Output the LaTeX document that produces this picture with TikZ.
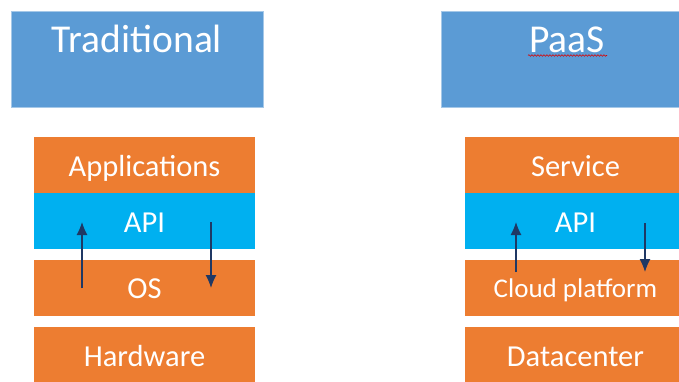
\documentclass[tikz,border=0pt]{standalone}
\usepackage{fontspec}
\setmainfont{Carlito}
\usepackage{tikz}
\usetikzlibrary{arrows.meta,%
	decorations.pathmorphing}
\definecolor{hdblue}{HTML}{5B9BD5}
\definecolor{layerorange}{HTML}{ED7D31}
\definecolor{apiblue}{HTML}{00B0F0}
\definecolor{arrownavy}{HTML}{1F3864}

\begin{document}
\begin{tikzpicture}[x=1pt,y=-1pt,head/.style={rectangle,fill=hdblue,draw=hdblue!55!white,line width=0.8pt,minimum width=252pt,minimum height=96pt,inner sep=0pt,text=white,font=\fontsize{39.5}{39.5}\selectfont,text height=30pt,text depth=42pt},layer/.style={rectangle,fill=layerorange,minimum width=221pt,minimum height=56pt,inner sep=0pt,text=white,font=\fontsize{30.5}{30.5}\selectfont,text height=22pt,text depth=0pt},api/.style={layer,fill=apiblue},flow/.style={draw=arrownavy,line width=1.2pt,-{Latex[length=13pt,width=11pt]}}]
		\useasboundingbox (0,0) rectangle (679,382);
		\clip (0,0) rectangle (679,382);
		\node[head] (1) at (137,59) {Traditional};
		\node[head] (2) at (567,59) {PaaS};
		\draw[red!85!black,line width=0.6pt,decorate,decoration={snake,segment length=3pt,amplitude=0.8pt}] (528,55.5) -- (607,55.5);
		% left stack
		\node[layer] (3) at (144.5,165) {Applications};
		\node[api] (4) at (144.5,221) {API};
		\node[layer] (5) at (144.5,287.5) {OS};
		\node[layer] (6) at (144.5,355) {Hardware};
		% right stack
		\node[layer] (7) at (575.5,165) {Service};
		\node[api] (8) at (575.5,221) {API};
		\node[layer,font=\fontsize{27}{27}\selectfont,text height=19pt] (9) at (575.5,287.5) {Cloud platform};
		\node[layer] (10) at (575.5,355) {Datacenter};
		\coordinate (a1) at (82,288);
		\coordinate (b1) at (82,222);
		\coordinate (a2) at (211,222);
		\coordinate (b2) at (211,288);
		\coordinate (a3) at (516,272);
		\coordinate (b3) at (516,222);
		\coordinate (a4) at (645,223);
		\coordinate (b4) at (645,272);
		\path[flow] (a1) -- (b1);
		\path[flow] (a2) -- (b2);
		\path[flow] (a3) -- (b3);
		\path[flow] (a4) -- (b4);
		\end{tikzpicture}
\end{document}
